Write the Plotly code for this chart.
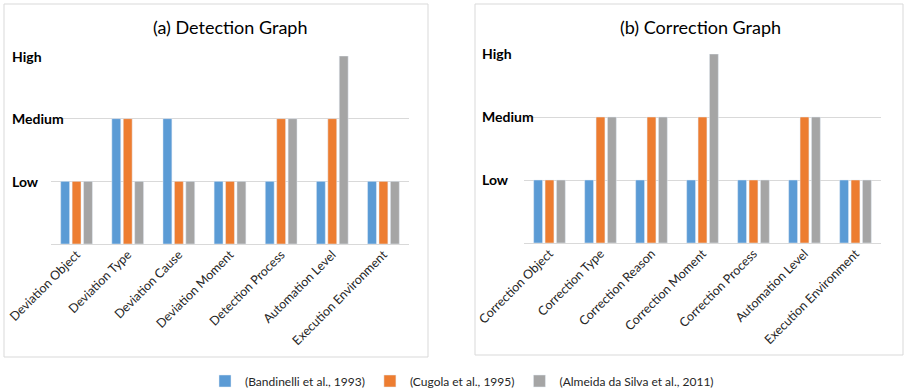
import plotly.graph_objects as go

# Assessment levels shown on the value axis
levels = [1, 2, 3]
level_names = ["Low", "Medium", "High"]

series_names = [
    "(Bandinelli et al., 1993)",
    "(Cugola et al., 1995)",
    "(Almeida da Silva et al., 2011)",
]
series_colors = ["#5b9bd5", "#ed7d31", "#a5a5a5"]

# (a) Detection graph
detection_categories = [
    "Deviation Object", "Deviation Type", "Deviation Cause", "Deviation Moment",
    "Detection Process", "Automation Level", "Execution Environment",
]
detection_bandinelli = [1, 2, 2, 1, 1, 1, 1]
detection_cugola = [1, 2, 1, 1, 2, 2, 1]
detection_almeida = [1, 1, 1, 1, 2, 3, 1]

# (b) Correction graph
correction_categories = [
    "Correction Object", "Correction Type", "Correction Reason", "Correction Moment",
    "Correction Process", "Automation Level", "Execution Environment",
]
correction_bandinelli = [1, 1, 1, 1, 1, 1, 1]
correction_cugola = [1, 2, 2, 2, 1, 2, 1]
correction_almeida = [1, 2, 2, 3, 1, 2, 1]

W, H = 906, 391
FONT = "Lato"

fig = go.Figure()

panels = [
    (detection_categories, [detection_bandinelli, detection_cugola, detection_almeida], "x", "y"),
    (correction_categories, [correction_bandinelli, correction_cugola, correction_almeida], "x2", "y2"),
]
for p, (cats, vals, xa, ya) in enumerate(panels):
    for name, color, v in zip(series_names, series_colors, vals):
        fig.add_trace(go.Bar(
            x=cats, y=v, name=name, marker_color=color,
            xaxis=xa, yaxis=ya, showlegend=(p == 0),
        ))

def px_x(v):
    return v / W

def px_y(v):
    return 1 - v / H

axis_common = dict(
    showline=False, ticks="", tickangle=-45, automargin=False,
    tickfont=dict(family=FONT, size=12.5, color="#262626"),
)
yaxis_common = dict(
    range=[0, 3], tickvals=[0] + levels, showticklabels=False, automargin=False,
    showgrid=True, gridcolor="#d9d9d9", gridwidth=1,
    zeroline=True, zerolinecolor="#d9d9d9", zerolinewidth=1,
)

fig.update_layout(
    width=W, height=H,
    margin=dict(l=0, r=0, t=0, b=0, autoexpand=False),
    paper_bgcolor="white", plot_bgcolor="white",
    barmode="group", bargap=0.33, bargroupgap=0.22,
    font=dict(family=FONT, color="#404040"),
    xaxis=dict(domain=[px_x(51), px_x(409)], anchor="y", **axis_common),
    yaxis=dict(domain=[px_y(244), px_y(56)], anchor="x", **yaxis_common),
    xaxis2=dict(domain=[px_x(524), px_x(881)], anchor="y2", **axis_common),
    yaxis2=dict(domain=[px_y(243), px_y(54)], anchor="x2", **yaxis_common),
    legend=dict(
        orientation="h", x=px_x(462), xanchor="center", y=px_y(381), yanchor="middle",
        font=dict(family=FONT, size=12, color="#262626"),
        itemwidth=30, tracegroupgap=0,
    ),
)

# Panel frames
for x0, y0, x1, y1 in [(4, 4, 428, 357), (475, 4, 903, 355)]:
    fig.add_shape(type="rect", xref="paper", yref="paper",
                  x0=px_x(x0), x1=px_x(x1), y0=px_y(y1), y1=px_y(y0),
                  line=dict(color="#d9d9d9", width=1), fillcolor="rgba(0,0,0,0)")

# Panel titles
for text, cx in [("(a) Detection Graph", 230), ("(b) Correction Graph", 700)]:
    fig.add_annotation(text=text, xref="paper", yref="paper",
                       x=px_x(cx), y=px_y(27), showarrow=False,
                       xanchor="center", yanchor="middle",
                       font=dict(family=FONT, size=18, color="#000000"))

# Left-aligned level labels on each value axis
for ya, lx in [("y", 10), ("y2", 480)]:
    for lv, nm in zip(levels, level_names):
        fig.add_annotation(text=f"<b>{nm}</b>", xref="paper", yref=ya,
                           x=px_x(lx), y=lv, showarrow=False,
                           xanchor="left", yanchor="middle",
                           font=dict(family=FONT, size=14, color="#000000"))

fig.write_html("out.html")
